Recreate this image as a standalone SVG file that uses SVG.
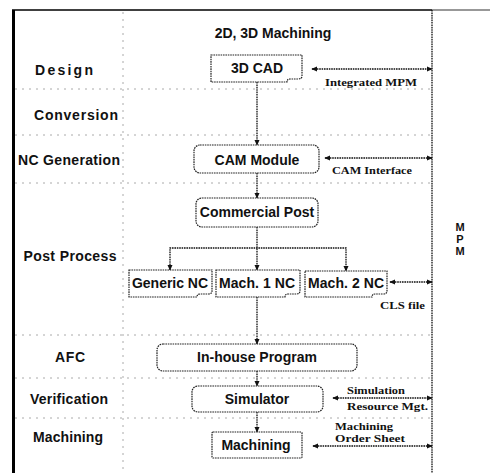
<svg xmlns="http://www.w3.org/2000/svg" width="492" height="473" viewBox="0 0 492 473">
<defs>
<marker id="ah" viewBox="0 0 8 8" refX="7" refY="4" markerWidth="6" markerHeight="6" orient="auto-start-reverse" markerUnits="userSpaceOnUse">
<path d="M0,0.5 L8,4 L0,7.5 Z" fill="#111"/>
</marker>
<style>
.lbl{font-family:"Liberation Sans",Arial,sans-serif;font-weight:bold;font-size:14px;fill:#111;text-anchor:middle}
.mpm{font-family:"Liberation Sans",Arial,sans-serif;font-weight:bold;font-size:11px;fill:#111;text-anchor:middle}
.sm{font-family:"Liberation Serif","Times New Roman",serif;font-weight:bold;font-size:11px;fill:#111;text-anchor:start}
.box{fill:#fff;stroke:#222;stroke-width:1.2;stroke-dasharray:1.6 0.8}
.div{stroke:#aaa;stroke-width:1;stroke-dasharray:2 5;fill:none}
.cn{stroke:#111;stroke-width:1.3;stroke-dasharray:1.6 0.8;fill:none}
</style>
</defs>
<rect width="492" height="473" fill="#fff"/>
<g id="frame">
<line x1="13.5" y1="10" x2="13.5" y2="473" stroke="#000" stroke-width="3"/>
<line x1="12" y1="10" x2="432" y2="10" stroke="#000" stroke-width="1.6"/>
<line x1="432" y1="10" x2="490" y2="10" stroke="#333" stroke-width="1.1"/>
<line x1="432" y1="10" x2="432" y2="473" stroke="#111" stroke-width="1.3" stroke-dasharray="1.6 0.8"/>
<line class="div" x1="123" y1="12" x2="123" y2="473"/>
<line class="div" x1="15" y1="89" x2="432" y2="89"/>
<line class="div" x1="15" y1="135" x2="432" y2="135"/>
<line class="div" x1="15" y1="183" x2="432" y2="183"/>
<line class="div" x1="15" y1="335" x2="432" y2="335"/>
<line class="div" x1="15" y1="378" x2="432" y2="378"/>
<line class="div" x1="15" y1="418" x2="432" y2="418"/>
</g>
<g id="row-labels">
<text class="lbl" x="64" y="75" textLength="58">Design</text>
<text class="lbl" x="76" y="120" textLength="84">Conversion</text>
<text class="lbl" x="69" y="165" textLength="102">NC Generation</text>
<text class="lbl" x="70" y="261" textLength="93">Post Process</text>
<text class="lbl" x="70" y="362" textLength="30">AFC</text>
<text class="lbl" x="69" y="404" textLength="78">Verification</text>
<text class="lbl" x="68" y="442" textLength="70">Machining</text>
</g>
<g id="title"><text class="lbl" x="273" y="38">2D, 3D Machining</text></g>
<g id="mpm">
<text class="mpm" x="460" y="231">M</text>
<text class="mpm" x="460" y="243">P</text>
<text class="mpm" x="460" y="255">M</text>
</g>
<g id="connectors">
<line class="cn" x1="257" y1="82" x2="257" y2="145" marker-end="url(#ah)"/>
<line class="cn" x1="257" y1="173" x2="257" y2="198" marker-end="url(#ah)"/>
<line class="cn" x1="257" y1="227" x2="257" y2="270" marker-end="url(#ah)"/>
<path class="cn" d="M170,270 V248 H346 V271" marker-start="url(#ah)" marker-end="url(#ah)"/>
<line class="cn" x1="257" y1="297" x2="257" y2="344" marker-end="url(#ah)"/>
<line class="cn" x1="257" y1="371" x2="257" y2="386" marker-end="url(#ah)"/>
<line class="cn" x1="257" y1="412" x2="257" y2="432" marker-end="url(#ah)"/>
<line class="cn" x1="312" y1="69" x2="432" y2="69" marker-start="url(#ah)" marker-end="url(#ah)"/>
<line class="cn" x1="325" y1="158" x2="432" y2="158" marker-start="url(#ah)" marker-end="url(#ah)"/>
<line class="cn" x1="390" y1="282" x2="432" y2="282" marker-start="url(#ah)" marker-end="url(#ah)"/>
<line class="cn" x1="333" y1="398" x2="432" y2="398" marker-start="url(#ah)" marker-end="url(#ah)"/>
<line class="cn" x1="313" y1="446" x2="432" y2="446" marker-start="url(#ah)" marker-end="url(#ah)"/>
<text class="sm" x="325" y="86" textLength="92" lengthAdjust="spacingAndGlyphs">Integrated MPM</text>
<text class="sm" x="332" y="174" textLength="80" lengthAdjust="spacingAndGlyphs">CAM Interface</text>
<text class="sm" x="380" y="309" textLength="45" lengthAdjust="spacingAndGlyphs">CLS file</text>
<text class="sm" x="347" y="394" textLength="58" lengthAdjust="spacingAndGlyphs">Simulation</text>
<text class="sm" x="347" y="410" textLength="81" lengthAdjust="spacingAndGlyphs">Resource Mgt.</text>
<text class="sm" x="335" y="430" textLength="58" lengthAdjust="spacingAndGlyphs">Machining</text>
<text class="sm" x="335" y="442" textLength="70" lengthAdjust="spacingAndGlyphs">Order Sheet</text>
</g>
<g id="n-3dcad">
<path class="box" d="M211,55 H302 V76 Q302,79 298,79 H290 Q287,79 287,82 H211 Z"/>
<text class="lbl" x="257" y="73">3D CAD</text>
</g>
<g id="n-cam">
<rect class="box" x="194" y="145" width="125" height="28" rx="6"/>
<text class="lbl" x="257" y="165">CAM Module</text>
</g>
<g id="n-post">
<rect class="box" x="196" y="198" width="122" height="29" rx="6"/>
<text class="lbl" x="257" y="217">Commercial Post</text>
</g>
<g id="n-generic">
<path class="box" d="M129,270 H212 V291 Q212,294 208,294 H200 Q197,294 197,297 H129 Z"/>
<text class="lbl" x="170" y="288" textLength="76">Generic NC</text>
</g>
<g id="n-mach1">
<path class="box" d="M216,270 H300 V291 Q300,294 296,294 H288 Q285,294 285,297 H216 Z"/>
<text class="lbl" x="257" y="288" textLength="76">Mach. 1 NC</text>
</g>
<g id="n-mach2">
<path class="box" d="M305,271 H387 V291 Q387,294 383,294 H375 Q372,294 372,297 H305 Z"/>
<text class="lbl" x="346" y="288" textLength="76">Mach. 2 NC</text>
</g>
<g id="n-inhouse">
<rect class="box" x="157" y="344" width="200" height="27" rx="6"/>
<text class="lbl" x="257" y="362">In-house Program</text>
</g>
<g id="n-sim">
<rect class="box" x="192" y="386" width="131" height="26" rx="6"/>
<text class="lbl" x="257" y="404">Simulator</text>
</g>
<g id="n-machining">
<rect class="box" x="212" y="432" width="90" height="26" rx="1"/>
<text class="lbl" x="256" y="450">Machining</text>
</g>
</svg>
